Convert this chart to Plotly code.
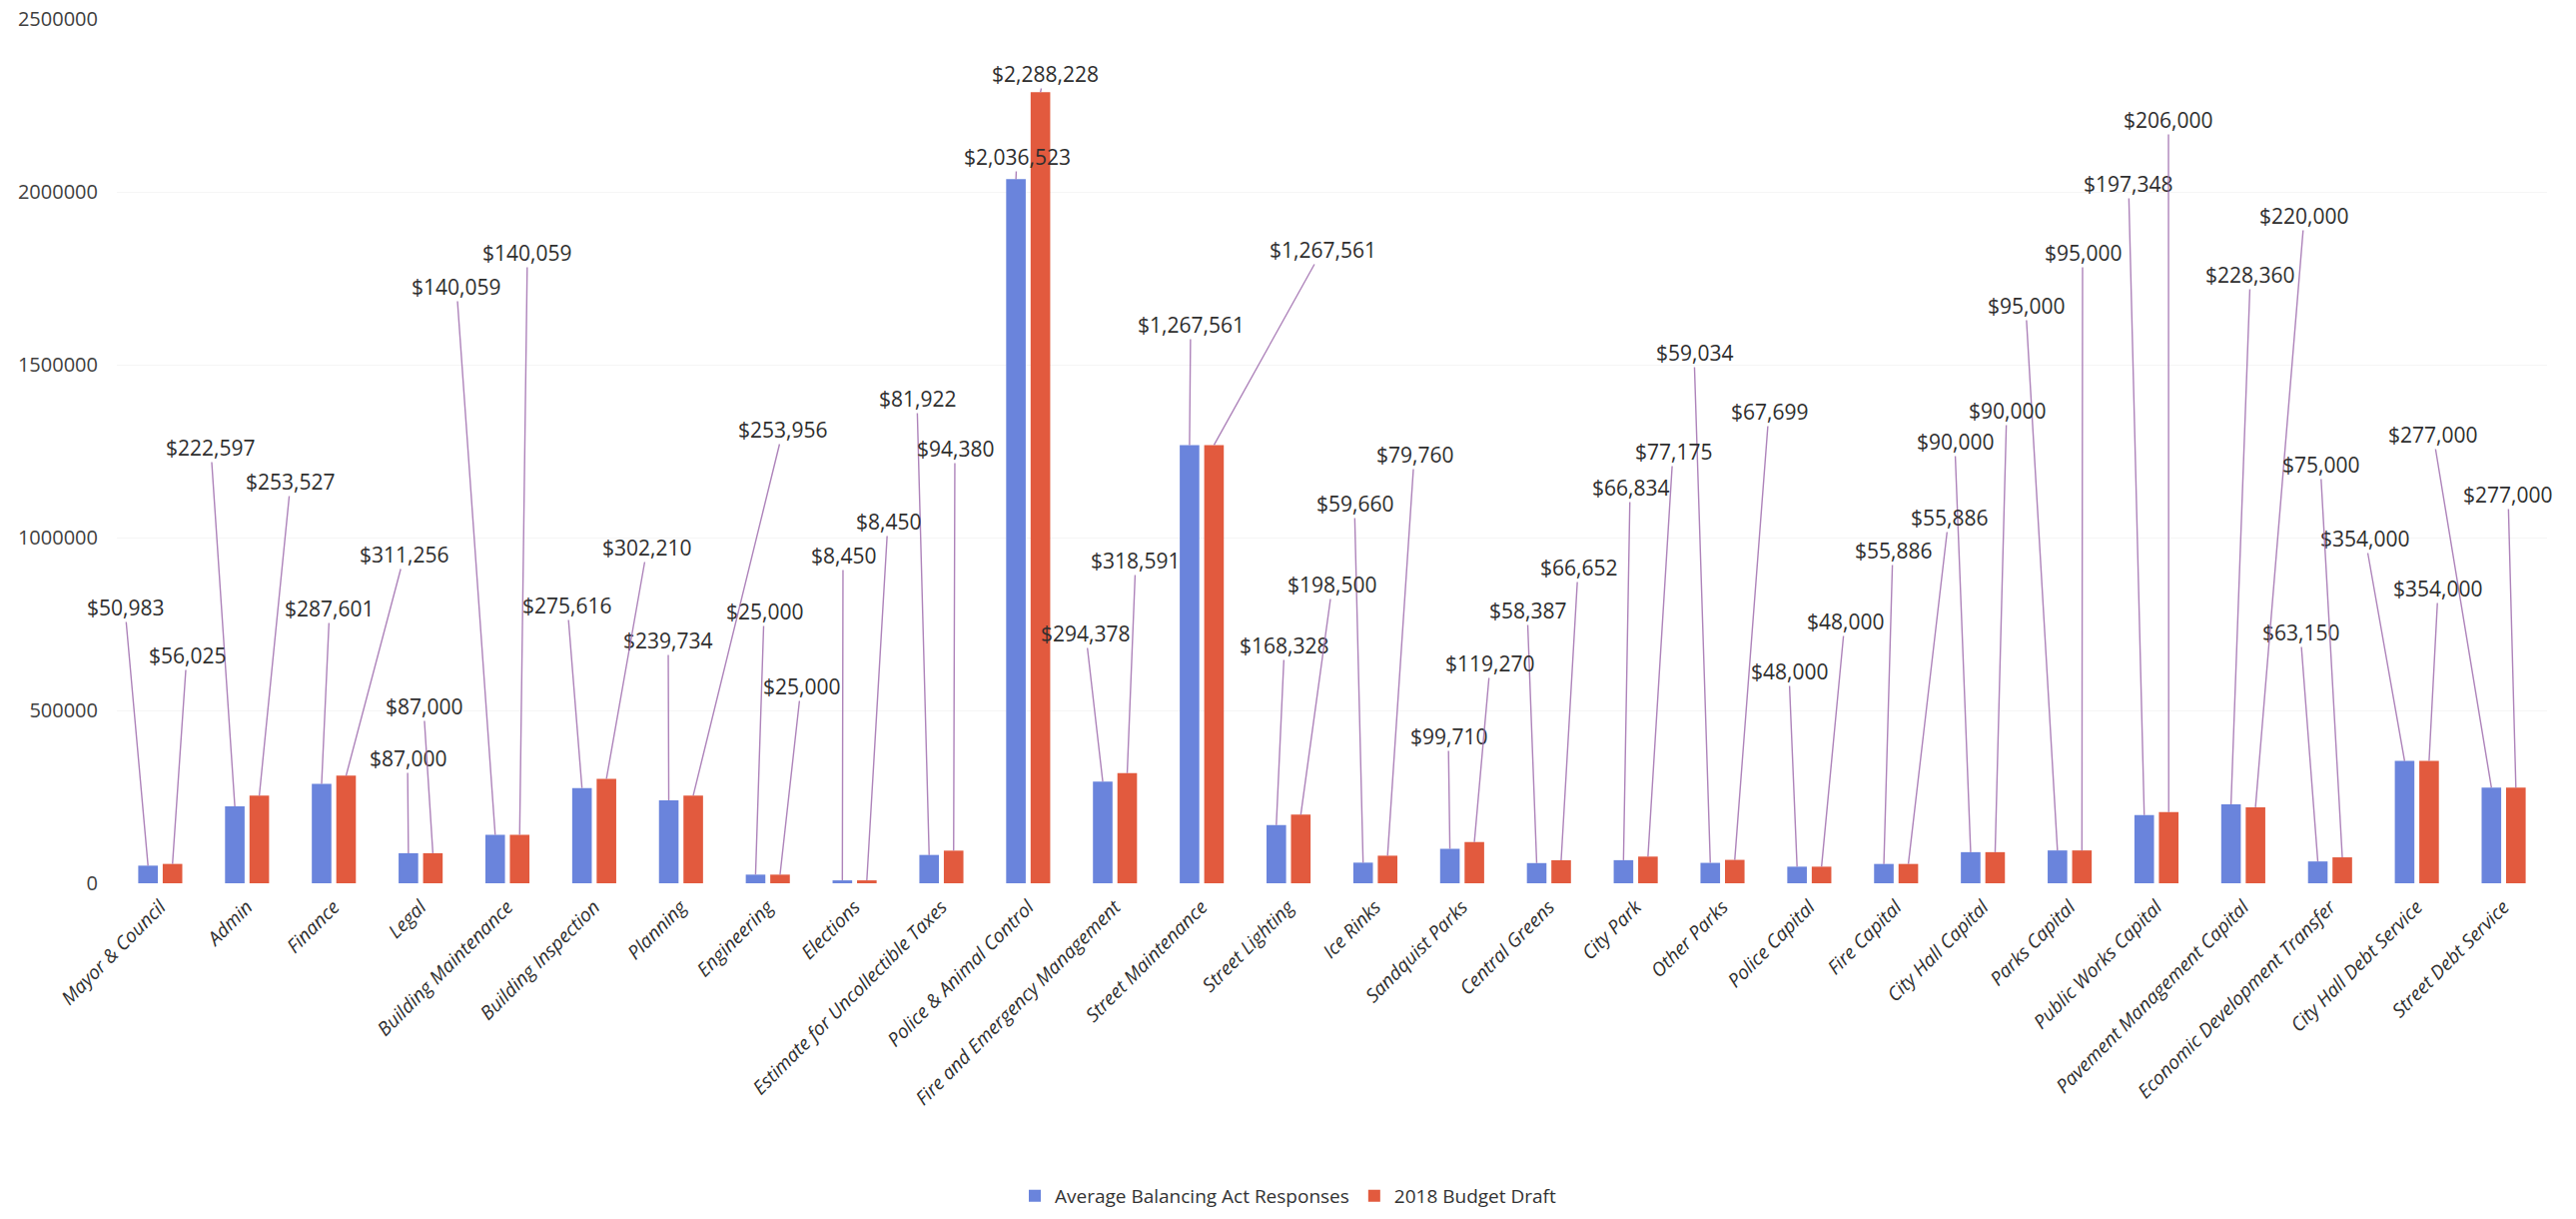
import plotly.graph_objects as go

# ---------------- data ----------------
categories = [
    "Mayor & Council", "Admin", "Finance", "Legal", "Building Maintenance",
    "Building Inspection", "Planning", "Engineering", "Elections",
    "Estimate for Uncollectible Taxes", "Police & Animal Control",
    "Fire and Emergency Management", "Street Maintenance", "Street Lighting",
    "Ice Rinks", "Sandquist Parks", "Central Greens", "City Park", "Other Parks",
    "Police Capital", "Fire Capital", "City Hall Capital", "Parks Capital",
    "Public Works Capital", "Pavement Management Capital",
    "Economic Development Transfer", "City Hall Debt Service", "Street Debt Service",
]
avg_responses = [
    50983, 222597, 287601, 87000, 140059, 275616, 239734, 25000, 8450, 81922,
    2036523, 294378, 1267561, 168328, 59660, 99710, 58387, 66834, 59034, 48000,
    55886, 90000, 95000, 197348, 228360, 63150, 354000, 277000,
]
budget_draft = [
    56025, 253527, 311256, 87000, 140059, 302210, 253956, 25000, 8450, 94380,
    2288228, 318591, 1267561, 198500, 79760, 119270, 66652, 77175, 67699, 48000,
    55886, 90000, 95000, 206000, 220000, 75000, 354000, 277000,
]
series_names = ["Average Balancing Act Responses", "2018 Budget Draft"]
y_ticks = [0, 500000, 1000000, 1500000, 2000000, 2500000]

# ---------------- layout / style constants ----------------
W, H = 2579, 1220
ML, MR, MT, MB = 117, 29, 19, 336
Y_MAX = 2500000
BARGAP, GROUPGAP = 0.436, 0.2
COL_AVG, COL_DRAFT = "#6a84dc", "#e25a3e"
LEADER = "rgba(160,110,175,0.85)"
FONT = "Open Sans"

# data-label positions on the page (pixels), one per bar  (style only)
label_px_avg = [
    (125, 608), (211, 448), (330, 609), (408, 759), (457, 287), (568, 606),
    (669, 641), (765, 612), (844, 556), (918, 399), (1018, 157), (1087, 634),
    (1192, 325), (1286, 646), (1356, 504), (1450, 737), (1529, 611), (1632, 488),
    (1696, 353), (1791, 672), (1895, 551), (1957, 442), (2028, 306), (2131, 184),
    (2253, 275), (2303, 633), (2368, 539), (2436, 435),
]
label_px_draft = [
    (187, 656), (291, 482), (405, 555), (424, 707), (528, 253), (648, 548),
    (784, 430), (802, 687), (889, 522), (956, 449), (1046, 74), (1137, 561),
    (1324, 250), (1334, 585), (1416, 455), (1492, 664), (1580, 568), (1675, 452),
    (1771, 412), (1847, 622), (1951, 518), (2009, 411), (2085, 253), (2171, 120),
    (2307, 216), (2323, 465), (2441, 589), (2511, 495),
]

plot_w = W - ML - MR
plot_h = H - MT - MB
band = plot_w / len(categories)


def px_to_x(px):
    return (px - ML) / band - 0.5


def py_to_y(py):
    return (H - MB - py) / plot_h * Y_MAX


fig = go.Figure()
fig.add_trace(go.Bar(name=series_names[0], x=categories, y=avg_responses,
                     marker=dict(color=COL_AVG, line=dict(width=0))))
fig.add_trace(go.Bar(name=series_names[1], x=categories, y=budget_draft,
                     marker=dict(color=COL_DRAFT, line=dict(width=0))))

off = (1 - BARGAP) / 4.0
annotations = []
for values, positions, sign in ((avg_responses, label_px_avg, -1),
                                (budget_draft, label_px_draft, 1)):
    for i, (v, (lx, ly)) in enumerate(zip(values, positions)):
        annotations.append(dict(
            x=i + sign * off, y=v, xref="x", yref="y",
            ax=px_to_x(lx), ay=py_to_y(ly), axref="x", ayref="y",
            text="${:,}".format(v), showarrow=True, arrowhead=0,
            arrowwidth=1.4, arrowcolor=LEADER, standoff=0, borderpad=0,
            font=dict(family=FONT, size=21, color="#2e2e2e"),
        ))

fig.update_layout(
    width=W, height=H,
    margin=dict(l=ML, r=MR, t=MT, b=MB, autoexpand=False),
    barmode="group", bargap=BARGAP, bargroupgap=GROUPGAP,
    paper_bgcolor="white", plot_bgcolor="white",
    font=dict(family=FONT, color="#333333"),
    showlegend=True,
    legend=dict(orientation="h", xref="container", yref="container",
                x=0.5, xanchor="center", y=0.019, yanchor="middle",
                font=dict(family=FONT, size=19, color="#333333"),
                itemwidth=30),
    annotations=annotations,
)
fig.update_xaxes(
    range=[-0.5, len(categories) - 0.5], tickangle=-45,
    tickfont=dict(family=FONT, size=19, color="#2e2e2e", style="italic"),
    showgrid=False, showline=False, ticks="", automargin=False,
    ticklabelstandoff=8,
)
fig.update_yaxes(
    range=[0, Y_MAX], tickvals=y_ticks, ticktext=[str(t) for t in y_ticks],
    tickfont=dict(family=FONT, size=20, color="#404040"),
    showgrid=True, gridcolor="#f5f5f5", gridwidth=1, zeroline=False,
    showline=False, ticks="", ticklabelstandoff=18, automargin=False,
)

fig.write_html("out.html")
